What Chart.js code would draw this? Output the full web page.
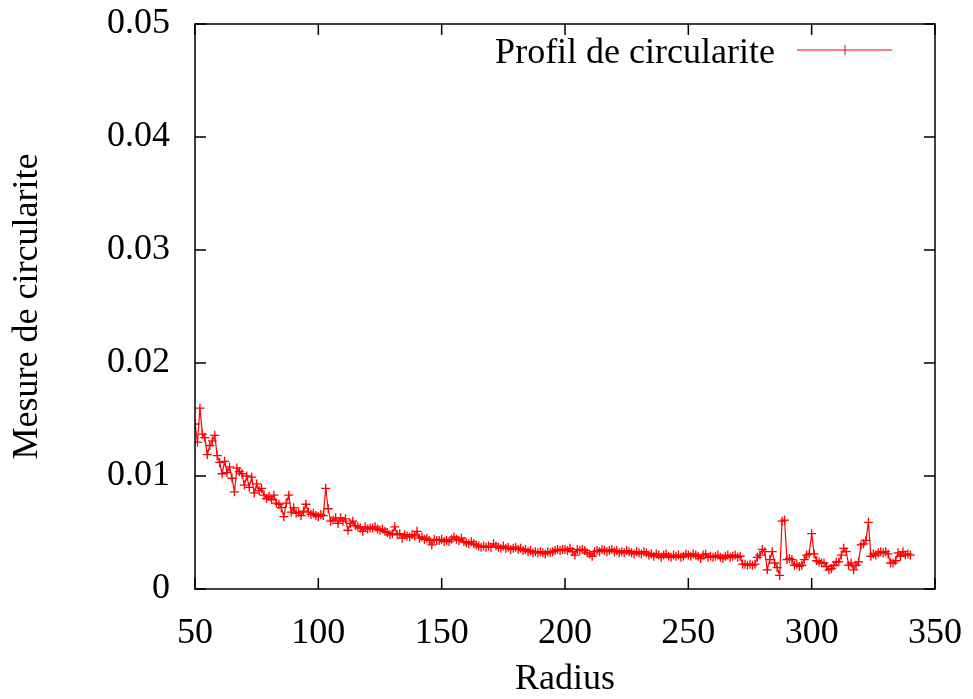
<!DOCTYPE html>
<html>
<head>
<meta charset="utf-8">
<script src="https://cdn.jsdelivr.net/npm/chart.js@4.4.1/dist/chart.umd.min.js"></script>
<style>
  html, body { margin: 0; padding: 0; background: #fff; }
  #wrap { width: 973px; height: 699px; }
</style>
</head>
<body>
<div id="wrap"><canvas id="c" width="973" height="699"></canvas></div>
<script>
// Radius values (x)
const radii = [
  50, 51, 52, 53, 54, 55, 56, 57, 58, 59,
  60, 61, 62, 63, 64, 65, 66, 67, 68, 69,
  70, 71, 72, 73, 74, 75, 76, 77, 78, 79,
  80, 81, 82, 83, 84, 85, 86, 87, 88, 89,
  90, 91, 92, 93, 94, 95, 96, 97, 98, 99,
  100, 101, 102, 103, 104, 105, 106, 107, 108, 109,
  110, 111, 112, 113, 114, 115, 116, 117, 118, 119,
  120, 121, 122, 123, 124, 125, 126, 127, 128, 129,
  130, 131, 132, 133, 134, 135, 136, 137, 138, 139,
  140, 141, 142, 143, 144, 145, 146, 147, 148, 149,
  150, 151, 152, 153, 154, 155, 156, 157, 158, 159,
  160, 161, 162, 163, 164, 165, 166, 167, 168, 169,
  170, 171, 172, 173, 174, 175, 176, 177, 178, 179,
  180, 181, 182, 183, 184, 185, 186, 187, 188, 189,
  190, 191, 192, 193, 194, 195, 196, 197, 198, 199,
  200, 201, 202, 203, 204, 205, 206, 207, 208, 209,
  210, 211, 212, 213, 214, 215, 216, 217, 218, 219,
  220, 221, 222, 223, 224, 225, 226, 227, 228, 229,
  230, 231, 232, 233, 234, 235, 236, 237, 238, 239,
  240, 241, 242, 243, 244, 245, 246, 247, 248, 249,
  250, 251, 252, 253, 254, 255, 256, 257, 258, 259,
  260, 261, 262, 263, 264, 265, 266, 267, 268, 269,
  270, 271, 272, 273, 274, 275, 276, 277, 278, 279,
  280, 281, 282, 283, 284, 285, 286, 287, 288, 289,
  290, 291, 292, 293, 294, 295, 296, 297, 298, 299,
  300, 301, 302, 303, 304, 305, 306, 307, 308, 309,
  310, 311, 312, 313, 314, 315, 316, 317, 318, 319,
  320, 321, 322, 323, 324, 325, 326, 327, 328, 329,
  330, 331, 332, 333, 334, 335, 336, 337, 338, 339,
  340
];

// Circularity measure (y)
const circularite = [
  0.0146, 0.0130, 0.0160, 0.0137, 0.0134, 0.0119, 0.0127, 0.0131, 0.0136, 0.0118,
  0.0112, 0.0102, 0.0113, 0.0103, 0.0108, 0.0098, 0.0086, 0.0107, 0.0104, 0.0102,
  0.0092, 0.0100, 0.0090, 0.0099, 0.0085, 0.0093, 0.0087, 0.0089, 0.0083, 0.0080,
  0.0082, 0.0079, 0.0083, 0.0076, 0.0075, 0.0072, 0.0064, 0.0076, 0.0083, 0.0068,
  0.0072, 0.0067, 0.0068, 0.0065, 0.0069, 0.0075, 0.0068, 0.0066, 0.0067, 0.0065,
  0.0064, 0.0066, 0.0065, 0.0089, 0.0071, 0.0060, 0.0061, 0.0063, 0.0058, 0.0063,
  0.0060, 0.0062, 0.0052, 0.0058, 0.0060, 0.0056, 0.0055, 0.0054, 0.0051, 0.0055,
  0.0053, 0.0054, 0.0054, 0.0055, 0.0053, 0.0052, 0.0053, 0.0051, 0.0050, 0.0048,
  0.0049, 0.0055, 0.0048, 0.0049, 0.0045, 0.0048, 0.0047, 0.0046, 0.0048, 0.0047,
  0.0051, 0.0045, 0.0046, 0.0044, 0.0045, 0.0043, 0.0039, 0.0044, 0.0043, 0.0043,
  0.0044, 0.0042, 0.0043, 0.0042, 0.0044, 0.0046, 0.0044, 0.0043, 0.0045, 0.0042,
  0.0041, 0.0040, 0.0042, 0.0040, 0.0039, 0.0038, 0.0037, 0.0038, 0.0037, 0.0038,
  0.0037, 0.0040, 0.0038, 0.0037, 0.0036, 0.0038, 0.0036, 0.0037, 0.0035, 0.0036,
  0.0037, 0.0035, 0.0036, 0.0034, 0.0035, 0.0033, 0.0034, 0.0032, 0.0033, 0.0032,
  0.0033, 0.0032, 0.0031, 0.0033, 0.0032, 0.0033, 0.0034, 0.0035, 0.0034, 0.0035,
  0.0035, 0.0034, 0.0036, 0.0033, 0.0030, 0.0035, 0.0034, 0.0035, 0.0034, 0.0032,
  0.0031, 0.0029, 0.0033, 0.0034, 0.0033, 0.0035, 0.0034, 0.0033, 0.0034, 0.0035,
  0.0033, 0.0034, 0.0032, 0.0033, 0.0032, 0.0034, 0.0033, 0.0032, 0.0031, 0.0033,
  0.0032, 0.0031, 0.0033, 0.0032, 0.0030, 0.0031, 0.0029, 0.0031, 0.0030, 0.0028,
  0.0030, 0.0031, 0.0029, 0.0028, 0.0030, 0.0029, 0.0030, 0.0028, 0.0029, 0.0031,
  0.0030, 0.0029, 0.0031, 0.0030, 0.0029, 0.0027, 0.0030, 0.0031, 0.0028, 0.0029,
  0.0028, 0.0029, 0.0030, 0.0028, 0.0027, 0.0029, 0.0030, 0.0028, 0.0029, 0.0030,
  0.0028, 0.0029, 0.0022, 0.0022, 0.0021, 0.0022, 0.0021, 0.0022, 0.0028, 0.0030,
  0.0035, 0.0033, 0.0017, 0.0026, 0.0033, 0.0023, 0.0019, 0.0012, 0.0060, 0.0061,
  0.0026, 0.0027, 0.0026, 0.0021, 0.0022, 0.0020, 0.0021, 0.0026, 0.0030, 0.0031,
  0.0049, 0.0031, 0.0025, 0.0024, 0.0023, 0.0023, 0.0020, 0.0017, 0.0018, 0.0021,
  0.0024, 0.0024, 0.0030, 0.0036, 0.0033, 0.0021, 0.0023, 0.0017, 0.0021, 0.0024,
  0.0039, 0.0040, 0.0043, 0.0059, 0.0029, 0.0031, 0.0030, 0.0032, 0.0033, 0.0032,
  0.0033, 0.0031, 0.0023, 0.0023, 0.0025, 0.0032, 0.0029, 0.0033, 0.0030, 0.0031,
  0.0030
];

const xTicks = [50, 100, 150, 200, 250, 300, 350];
const yTicks = [0, 0.01, 0.02, 0.03, 0.04, 0.05];

const FONT = "'Liberation Serif', 'Times New Roman', serif";

// gnuplot-like frame with inward ticks + legend
const framePlugin = {
    id: 'frame',
    afterDraw(chart) {
        const ctx = chart.ctx;
        const a = chart.chartArea;
        const xs = chart.scales.x, ys = chart.scales.y;
        const tl = 11;
        ctx.save();
        ctx.strokeStyle = '#000';
        ctx.lineWidth = 1.5;
        ctx.strokeRect(a.left, a.top, a.right - a.left, a.bottom - a.top);
        ctx.beginPath();
        xTicks.forEach(function (v) {
            const px = xs.getPixelForValue(v);
            ctx.moveTo(px, a.bottom); ctx.lineTo(px, a.bottom - tl);
            ctx.moveTo(px, a.top); ctx.lineTo(px, a.top + tl);
        });
        yTicks.forEach(function (v) {
            const py = ys.getPixelForValue(v);
            ctx.moveTo(a.left, py); ctx.lineTo(a.left + tl, py);
            ctx.moveTo(a.right, py); ctx.lineTo(a.right - tl, py);
        });
        ctx.stroke();

        // legend
        ctx.fillStyle = '#000';
        ctx.font = '36px ' + FONT;
        ctx.textAlign = 'right';
        ctx.textBaseline = 'alphabetic';
        ctx.fillText('Profil de circularite', 775, 63);
        ctx.strokeStyle = '#ff0000';
        ctx.lineWidth = 1;
        ctx.beginPath();
        ctx.moveTo(797, 50); ctx.lineTo(892, 50);
        ctx.moveTo(845, 45); ctx.lineTo(845, 55);
        ctx.stroke();
        ctx.restore();
    }
};

function noPad(s) {
    s.paddingTop = 0; s.paddingBottom = 0;
    s.paddingLeft = 0; s.paddingRight = 0;
}

new Chart(document.getElementById('c'), {
    type: 'line',
    data: {
        labels: radii,
        datasets: [{
            label: 'Profil de circularite',
            data: circularite,
            borderColor: '#ff0000',
            borderWidth: 1.2,
            pointStyle: 'cross',
            pointRadius: 4.5,
            pointBorderColor: '#ff0000',
            pointBorderWidth: 1.3,
            fill: false,
            tension: 0
        }]
    },
    options: {
        responsive: false,
        animation: false,
        layout: { padding: { top: 24, right: 38, left: 0, bottom: 0 } },
        plugins: { legend: { display: false }, tooltip: { enabled: false } },
        scales: {
            x: {
                type: 'linear',
                min: 50, max: 350,
                afterFit: function (s) { s.height = 110; noPad(s); },
                afterBuildTicks: function (s) { s.ticks = xTicks.map(function (v) { return { value: v }; }); },
                grid: { display: false, drawTicks: false },
                border: { display: false },
                ticks: {
                    color: '#000', padding: 27,
                    font: { family: FONT, size: 36, lineHeight: 1 },
                    maxRotation: 0,
                    callback: function (v) { return String(v); }
                },
                title: {
                    display: true, text: 'Radius', color: '#000',
                    font: { family: FONT, size: 36, lineHeight: 1 },
                    padding: { top: 0, bottom: 1 }
                }
            },
            y: {
                min: 0, max: 0.05,
                afterFit: function (s) { s.width = 195; noPad(s); },
                afterBuildTicks: function (s) { s.ticks = yTicks.map(function (v) { return { value: v }; }); },
                grid: { display: false, drawTicks: false },
                border: { display: false },
                ticks: {
                    color: '#000', padding: 25,
                    font: { family: FONT, size: 36, lineHeight: 1 },
                    callback: function (v) { return v === 0 ? '0' : v.toFixed(2); }
                },
                title: {
                    display: true, text: 'Mesure de circularite', color: '#000',
                    font: { family: FONT, size: 36, lineHeight: 1 },
                    padding: { top: 10, bottom: 0 }
                }
            }
        }
    },
    plugins: [framePlugin]
});
</script>
</body>
</html>
